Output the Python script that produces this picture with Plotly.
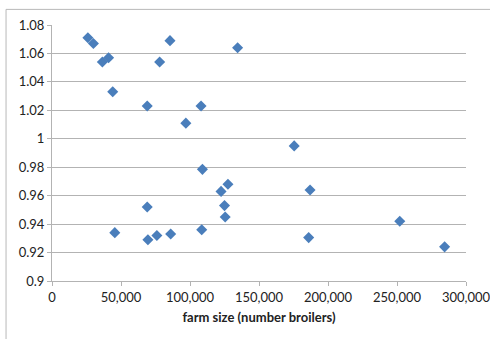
import plotly.graph_objects as go

# Farm size (number of broilers) and the corresponding efficiency ratio
farm_size = [26000, 30000, 36500, 41000, 44000, 69000, 78000, 85500, 97000,
             108000, 134500, 175500, 109000, 122500, 127500, 125000, 125500,
             108500, 86000, 76000, 69500, 69000, 45500, 187000, 186000,
             252000, 284500]
ratio = [1.071, 1.067, 1.054, 1.057, 1.033, 1.023, 1.054, 1.069, 1.011,
         1.023, 1.064, 0.995, 0.9785, 0.963, 0.968, 0.953, 0.945,
         0.936, 0.933, 0.932, 0.929, 0.952, 0.934, 0.964, 0.9305,
         0.942, 0.924]

x_ticks = [0, 50000, 100000, 150000, 200000, 250000, 300000]
x_tick_text = ["0", "50,000", "100,000", "150,000", "200,000", "250,000", "300,000"]
y_ticks = [0.9, 0.92, 0.94, 0.96, 0.98, 1.0, 1.02, 1.04, 1.06, 1.08]
y_tick_text = ["0.9", "0.92", "0.94", "0.96", "0.98", "1", "1.02", "1.04", "1.06", "1.08"]

font_family = "Lato, Calibri, Carlito, sans-serif"
grid_color = "#b3b3b3"

fig = go.Figure(
    go.Scatter(
        x=farm_size,
        y=ratio,
        mode="markers",
        marker=dict(symbol="diamond", size=8.5, color="#4a7ebb",
                    line=dict(width=0)),
        showlegend=False,
    )
)

fig.update_layout(
    width=490,
    height=339,
    margin=dict(l=52, r=24, t=25, b=58),
    paper_bgcolor="white",
    plot_bgcolor="white",
    font=dict(family=font_family, size=13, color="#222222"),
    xaxis=dict(
        range=[0, 300000],
        tickvals=x_ticks,
        ticktext=x_tick_text,
        automargin=False,
        ticklabeloverflow="allow",
        showgrid=False,
        zeroline=False,
        showline=True,
        linecolor=grid_color,
        linewidth=1,
        ticks="outside",
        ticklen=4,
        tickcolor=grid_color,
        tickfont=dict(size=13),
        title=dict(text="<b>farm size (number broilers)</b>",
                   font=dict(size=13), standoff=9),
    ),
    yaxis=dict(
        range=[0.9, 1.08],
        tickvals=y_ticks,
        ticktext=y_tick_text,
        automargin=False,
        ticklabeloverflow="allow",
        showgrid=True,
        gridcolor=grid_color,
        gridwidth=1,
        zeroline=False,
        showline=True,
        linecolor=grid_color,
        linewidth=1,
        ticks="outside",
        ticklen=4,
        tickcolor=grid_color,
        tickfont=dict(size=13),
    ),
    shapes=[
        # outer chart frame
        dict(type="rect", xref="paper", yref="paper",
             x0=-0.111, x1=1.08, y0=-0.3, y1=1.061,
             line=dict(color="#b8b8b8", width=1), fillcolor="rgba(0,0,0,0)",
             layer="below"),
    ],
)

fig.write_html("out.html")
